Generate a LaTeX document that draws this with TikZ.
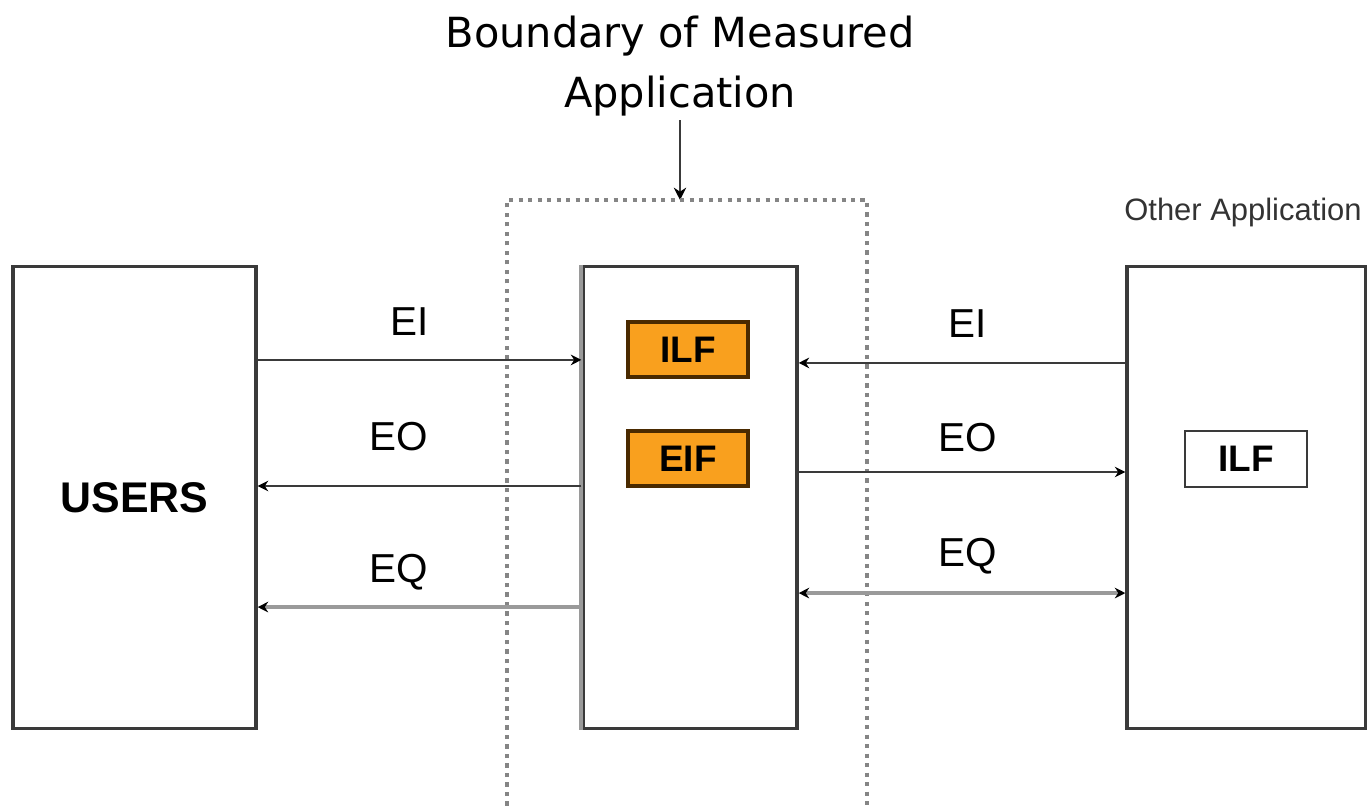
\documentclass[tikz,border=0pt]{standalone}
\usepackage{fontspec}
\setmainfont{Liberation Sans}
\newfontfamily\titlefont{DejaVu Sans}
\usetikzlibrary{arrows.meta}
\definecolor{boxline}{HTML}{3A3A3A}
\definecolor{lightline}{HTML}{9A9A9A}
\definecolor{dotline}{HTML}{858585}
\definecolor{fileorange}{HTML}{F9A01E}
\definecolor{fileborder}{HTML}{4A2A00}
\tikzset{
  bigbox/.style={draw=boxline, line width=0.9pt, fill=white, inner sep=0pt, minimum height=4.61cm},
  filebox/.style={draw=fileborder, line width=0.9pt, fill=fileorange, inner sep=0pt, minimum width=1.2cm, minimum height=0.55cm, font=\fontsize{10.5pt}{12pt}\selectfont\bfseries},
  extbox/.style={draw=boxline, line width=0.6pt, fill=white, inner sep=0pt, minimum width=1.22cm, minimum height=0.56cm, font=\fontsize{10.5pt}{12pt}\selectfont\bfseries},
  lbl/.style={font=\fontsize{11.5pt}{13pt}\selectfont, inner sep=0pt},
  arrdark/.style={draw=boxline, line width=0.5pt, -{Stealth[length=3pt,width=3pt,black]}},
  arrgrey/.style={draw=lightline, line width=0.9pt, -{Stealth[length=3pt,width=3pt,black]}},
  arrgreyboth/.style={draw=lightline, line width=0.9pt, {Stealth[length=3pt,width=3pt,black]}-{Stealth[length=3pt,width=3pt,black]}},
  boundary/.style={draw=dotline, line width=1pt, dash pattern=on 1.2pt off 1.5pt},
}
\begin{document}
\begin{tikzpicture}[x=0.01cm,y=-0.01cm]
\useasboundingbox[fill=white] (0,0) rectangle (1367,809);

% title
\node[font=\titlefont\fontsize{11.8pt}{17pt}\selectfont, align=center, inner sep=0pt] (title) at (680,66) {Boundary of Measured\\Application};
\coordinate (btop) at (680,200);
\draw[boxline, line width=0.6pt, -{Stealth[length=3.5pt,width=3.5pt,black]}] (title.south) ++(0,-1pt) -- (btop);

% boundary of measured application (open at the bottom)
\draw[boundary] (507,815) -- (507,200) -- (867,200) -- (867,815);

% big boxes
\node[bigbox, minimum width=2.43cm, font=\fontsize{12.2pt}{14pt}\selectfont\bfseries] (users) at (134.5,497.5) {USERS};
\node[bigbox, minimum width=2.14cm] (mid) at (690,497.5) {};
\draw[lightline, line width=1.1pt] (mid.north west) -- (mid.south west);
\node[bigbox, minimum width=2.38cm] (other) at (1246,497.5) {};

\node[font=\fontsize{8.8pt}{10pt}\selectfont, text=black!80, inner sep=0pt] (otherlbl) at (1243,212) {Other Application};

% files
\node[filebox] (ilf) at (688,349.5) {ILF};
\node[filebox] (eif) at (688,458.5) {EIF};
\node[extbox] (ilf2) at (1246,459) {ILF};

% left connectors
\draw[arrdark] ([yshift=1.375cm]users.east) -- ([yshift=1.375cm]mid.west);
\draw[arrdark] ([yshift=0.115cm]mid.west) -- ([yshift=0.115cm]users.east);
\draw[arrgrey] ([yshift=-1.095cm]mid.west) -- ([yshift=-1.095cm]users.east);

% right connectors
\draw[arrdark] ([yshift=1.345cm]other.west) -- ([yshift=1.345cm]mid.east);
\draw[arrdark] ([yshift=0.255cm]mid.east) -- ([yshift=0.255cm]other.west);
\draw[arrgreyboth] ([yshift=-0.955cm]mid.east) -- ([yshift=-0.955cm]other.west);

% labels
\node[lbl] (eil) at (410,322) {EI};
\node[lbl] (eol) at (399,437) {EO};
\node[lbl] (eql) at (399,572) {EQ};
\node[lbl] (eir) at (968,324) {EI};
\node[lbl] (eor) at (968,438) {EO};
\node[lbl] (eqr) at (968,556) {EQ};
\end{tikzpicture}
\end{document}
